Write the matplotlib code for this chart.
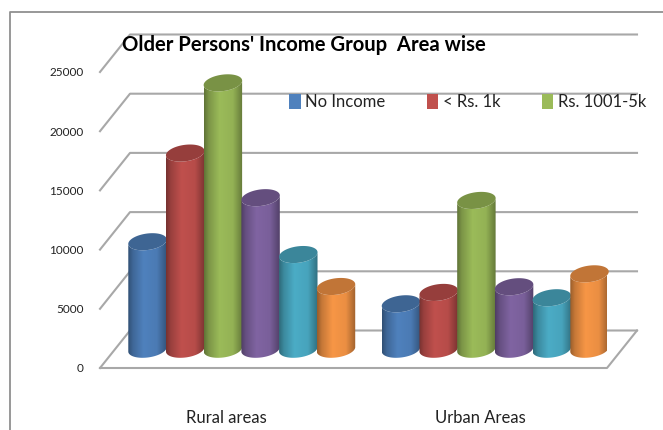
import numpy as np
import matplotlib
matplotlib.use("Agg")
import matplotlib.pyplot as plt
from matplotlib.colors import LinearSegmentedColormap, to_rgb
from matplotlib.lines import Line2D
from matplotlib.patches import Patch, Polygon

plt.rcParams['font.family'] = ['Lato', 'DejaVu Sans']

categories = ["Rural areas", "Urban Areas"]
y_ticks = [0, 5000, 10000, 15000, 20000, 25000]
legend_labels = ["No Income", "< Rs. 1k", "Rs. 1001-5k"]

no_income = [9080, 3840]
below_1k = [16570, 4800]
rs_1001_5k = [22500, 12570]
series_4 = [12800, 5280]
series_5 = [8000, 4350]
series_6 = [5300, 6370]

all_series = [no_income, below_1k, rs_1001_5k, series_4, series_5, series_6]
colors = ['#4F81BD', '#C0504D', '#9BBB59', '#8064A2', '#4BACC6', '#F79646']

W, H = 663, 430
fig = plt.figure(figsize=(W / 100, H / 100), dpi=100, facecolor='white')
ax = fig.add_axes([100 / W, (H - 368) / H, 507 / W, 296 / H])
ax.set_xlim(-0.5, 1.5)
ax.set_ylim(0, 25000)
ax.patch.set_visible(False)
for s in ax.spines.values():
    s.set_visible(False)

# data units per pixel
ux = 2 / 507
uy = 25000 / 296

# the fake 3d depth of the floor
depth_x = 30 * ux
depth_y = 37.5 * uy
grid_col = '#a8a8a8'

### back wall and side lines
for v in y_ticks:
    ax.plot([-0.5, -0.5 + depth_x, 1.5 + depth_x], [v, v + depth_y, v + depth_y],
            color=grid_col, lw=1.5, clip_on=False, zorder=1)
ax.plot([-0.5, 1.5, 1.5 + depth_x], [0, 0, depth_y], color=grid_col, lw=1.5, clip_on=False, zorder=1)


def shade(c, k):
    return tuple(np.array(to_rgb(c)) * k)


def ellipse_pts(cx, cy, t):
    # tilted ellipse, sizes are in pixels
    a, b, th = 19.4, 8.2, np.radians(8)
    px = a * np.cos(t) * np.cos(th) - b * np.sin(t) * np.sin(th)
    py = a * np.cos(t) * np.sin(th) + b * np.sin(t) * np.cos(th)
    return cx + px * ux, cy + py * uy


def cylinder(cx, val, col, z):
    base = depth_y / 2
    top = val + depth_y / 2
    t_low = np.linspace(np.pi, 2 * np.pi, 50)
    bx, by = ellipse_pts(cx, base, t_low)
    t_up = np.linspace(2 * np.pi, np.pi, 50)
    tx, ty = ellipse_pts(cx, top, t_up)
    body = Polygon(np.column_stack([np.r_[bx, tx], np.r_[by, ty]]), closed=True,
                   transform=ax.transData, fc='none', ec='none')
    ax.add_patch(body)
    cmap = LinearSegmentedColormap.from_list('c', [(0, shade(col, 0.62)), (0.12, shade(col, 0.8)),
                                                   (0.4, col), (0.75, shade(col, 0.95)),
                                                   (1, shade(col, 0.65))])
    left, right = tx.min(), tx.max()
    im = ax.imshow(np.linspace(0, 1, 64).reshape(1, -1), cmap=cmap, aspect='auto',
                   extent=[left, right, by.min(), ty.max()], zorder=z, interpolation='bilinear')
    im.set_clip_path(body)
    t = np.linspace(0, 2 * np.pi, 100)
    ex, ey = ellipse_pts(cx, top, t)
    ax.fill(ex, ey, color=shade(col, 0.78), lw=0, zorder=z + 0.1, clip_on=False)


gap = 37.7 * ux
for g in range(len(categories)):
    for i, vals in enumerate(all_series):
        cylinder(g + depth_x / 2 + (i - 2.5) * gap, vals[g], colors[i], 2 + i + g * 6)

ax.set_xlim(-0.5, 1.5)
ax.set_ylim(0, 25000)

ax.set_yticks(y_ticks)
ax.set_yticklabels([str(v) for v in y_ticks], fontsize=8.5, color='#222222')
ax.set_xticks([0, 1])
ax.set_xticklabels(categories, fontsize=12, color='#222222')
ax.tick_params(axis='y', length=0, pad=12)
ax.tick_params(axis='x', length=0, pad=30)

fig.text(122 / W, 1 - 45 / H, "Older Persons' Income Group  Area wise", fontsize=14.6,
         fontweight='bold', va='center', ha='left', color='black')

handles = [Patch(fc=colors[i], ec='none') for i in range(3)]
fig.legend(handles, legend_labels, ncol=3, frameon=False, fontsize=12, loc='center left',
           bbox_to_anchor=(289 / W, 1 - 102 / H), handlelength=0.7, handleheight=1.0,
           handletextpad=0.25, columnspacing=2.5, labelcolor='#222222', borderpad=0, borderaxespad=0)

# outer chart frame
fig.add_artist(Line2D([9.5 / W, 9.5 / W, 1], [0, 1 - 12 / H, 1 - 12 / H], color='#909090', lw=1.3))

fig.savefig('out.png', dpi=100)
